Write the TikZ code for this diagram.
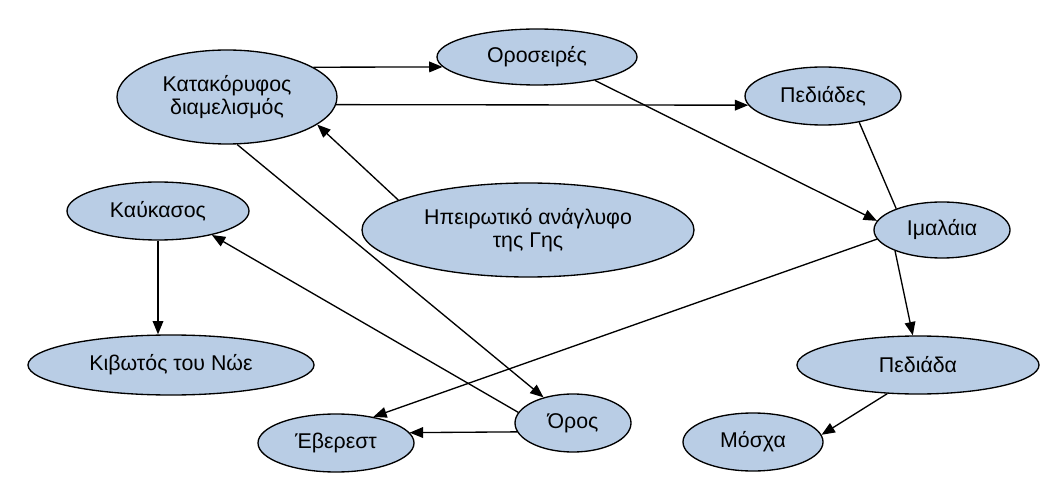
\documentclass[tikz,border=0pt]{standalone}
\usepackage{fontspec}
\setmainfont{Liberation Sans}
\usetikzlibrary{shapes.geometric,arrows.meta}
\definecolor{bubble}{RGB}{185,205,229}
\tikzset{
  concept/.style={ellipse, draw=black, line width=1pt, fill=bubble, inner sep=0pt,
    align=center, font=\fontsize{16}{16.8}\selectfont},
  dims/.style 2 args={minimum width=#1*0.75pt, minimum height=#2*0.75pt},
  link/.style={line width=1pt, draw=black},
  arr/.style={link, -{Triangle[length=10pt,width=8pt]}}
}
\begin{document}
\begin{tikzpicture}[x=0.75pt,y=-0.75pt]
\useasboundingbox (0,0) rectangle (1041,484);
% concepts
\node[concept, dims={220}{94}] (kat) at (227,97) {Κατακόρυφος\\διαμελισμός};
\node[concept, dims={200}{56}] (oro) at (537,57) {Οροσειρές};
\node[concept, dims={156}{58}] (ped) at (823,96) {Πεδιάδες};
\node[concept, dims={182}{58}] (kau) at (158,211) {Καύκασος};
\node[concept, dims={332}{94}] (hpe) at (528,230) {Ηπειρωτικό ανάγλυφο\\της Γης};
\node[concept, dims={136}{56}] (ima) at (942,230) {Ιμαλάια};
\node[concept, dims={286}{60}] (kib) at (171,365) {Κιβωτός του Νώε};
\node[concept, dims={242}{58}] (pda) at (918,365) {Πεδιάδα};
\node[concept, dims={116}{58}] (ors) at (573,423) {Όρος};
\node[concept, dims={156}{58}] (eve) at (336,443) {Έβερεστ};
\node[concept, dims={140}{58}] (mos) at (753,442) {Μόσχα};
% connections
\draw[arr] (kat.19) -- (oro.186);
\draw[arr] (kat.-4) -- (ped.187);
\draw[arr] (oro.-22) -- (ima.172);
\draw[link] (ped.-36) -- (ima.155);
\draw[arr] (hpe.167) -- (kat.-17);
\draw[arr] (kat.-78) -- (ors.139);
\draw[arr] (ors.169) -- (kau.-24);
\draw[arr] (ima.188) -- (eve.35);
\draw[arr] (ors.189) -- (eve.8);
\draw[arr] (kau.south) -- (kau.south |- kib.north);
\draw[arr] (ima.204) -- (pda.100);
\draw[arr] (pda.223) -- (mos.6);
\end{tikzpicture}
\end{document}
